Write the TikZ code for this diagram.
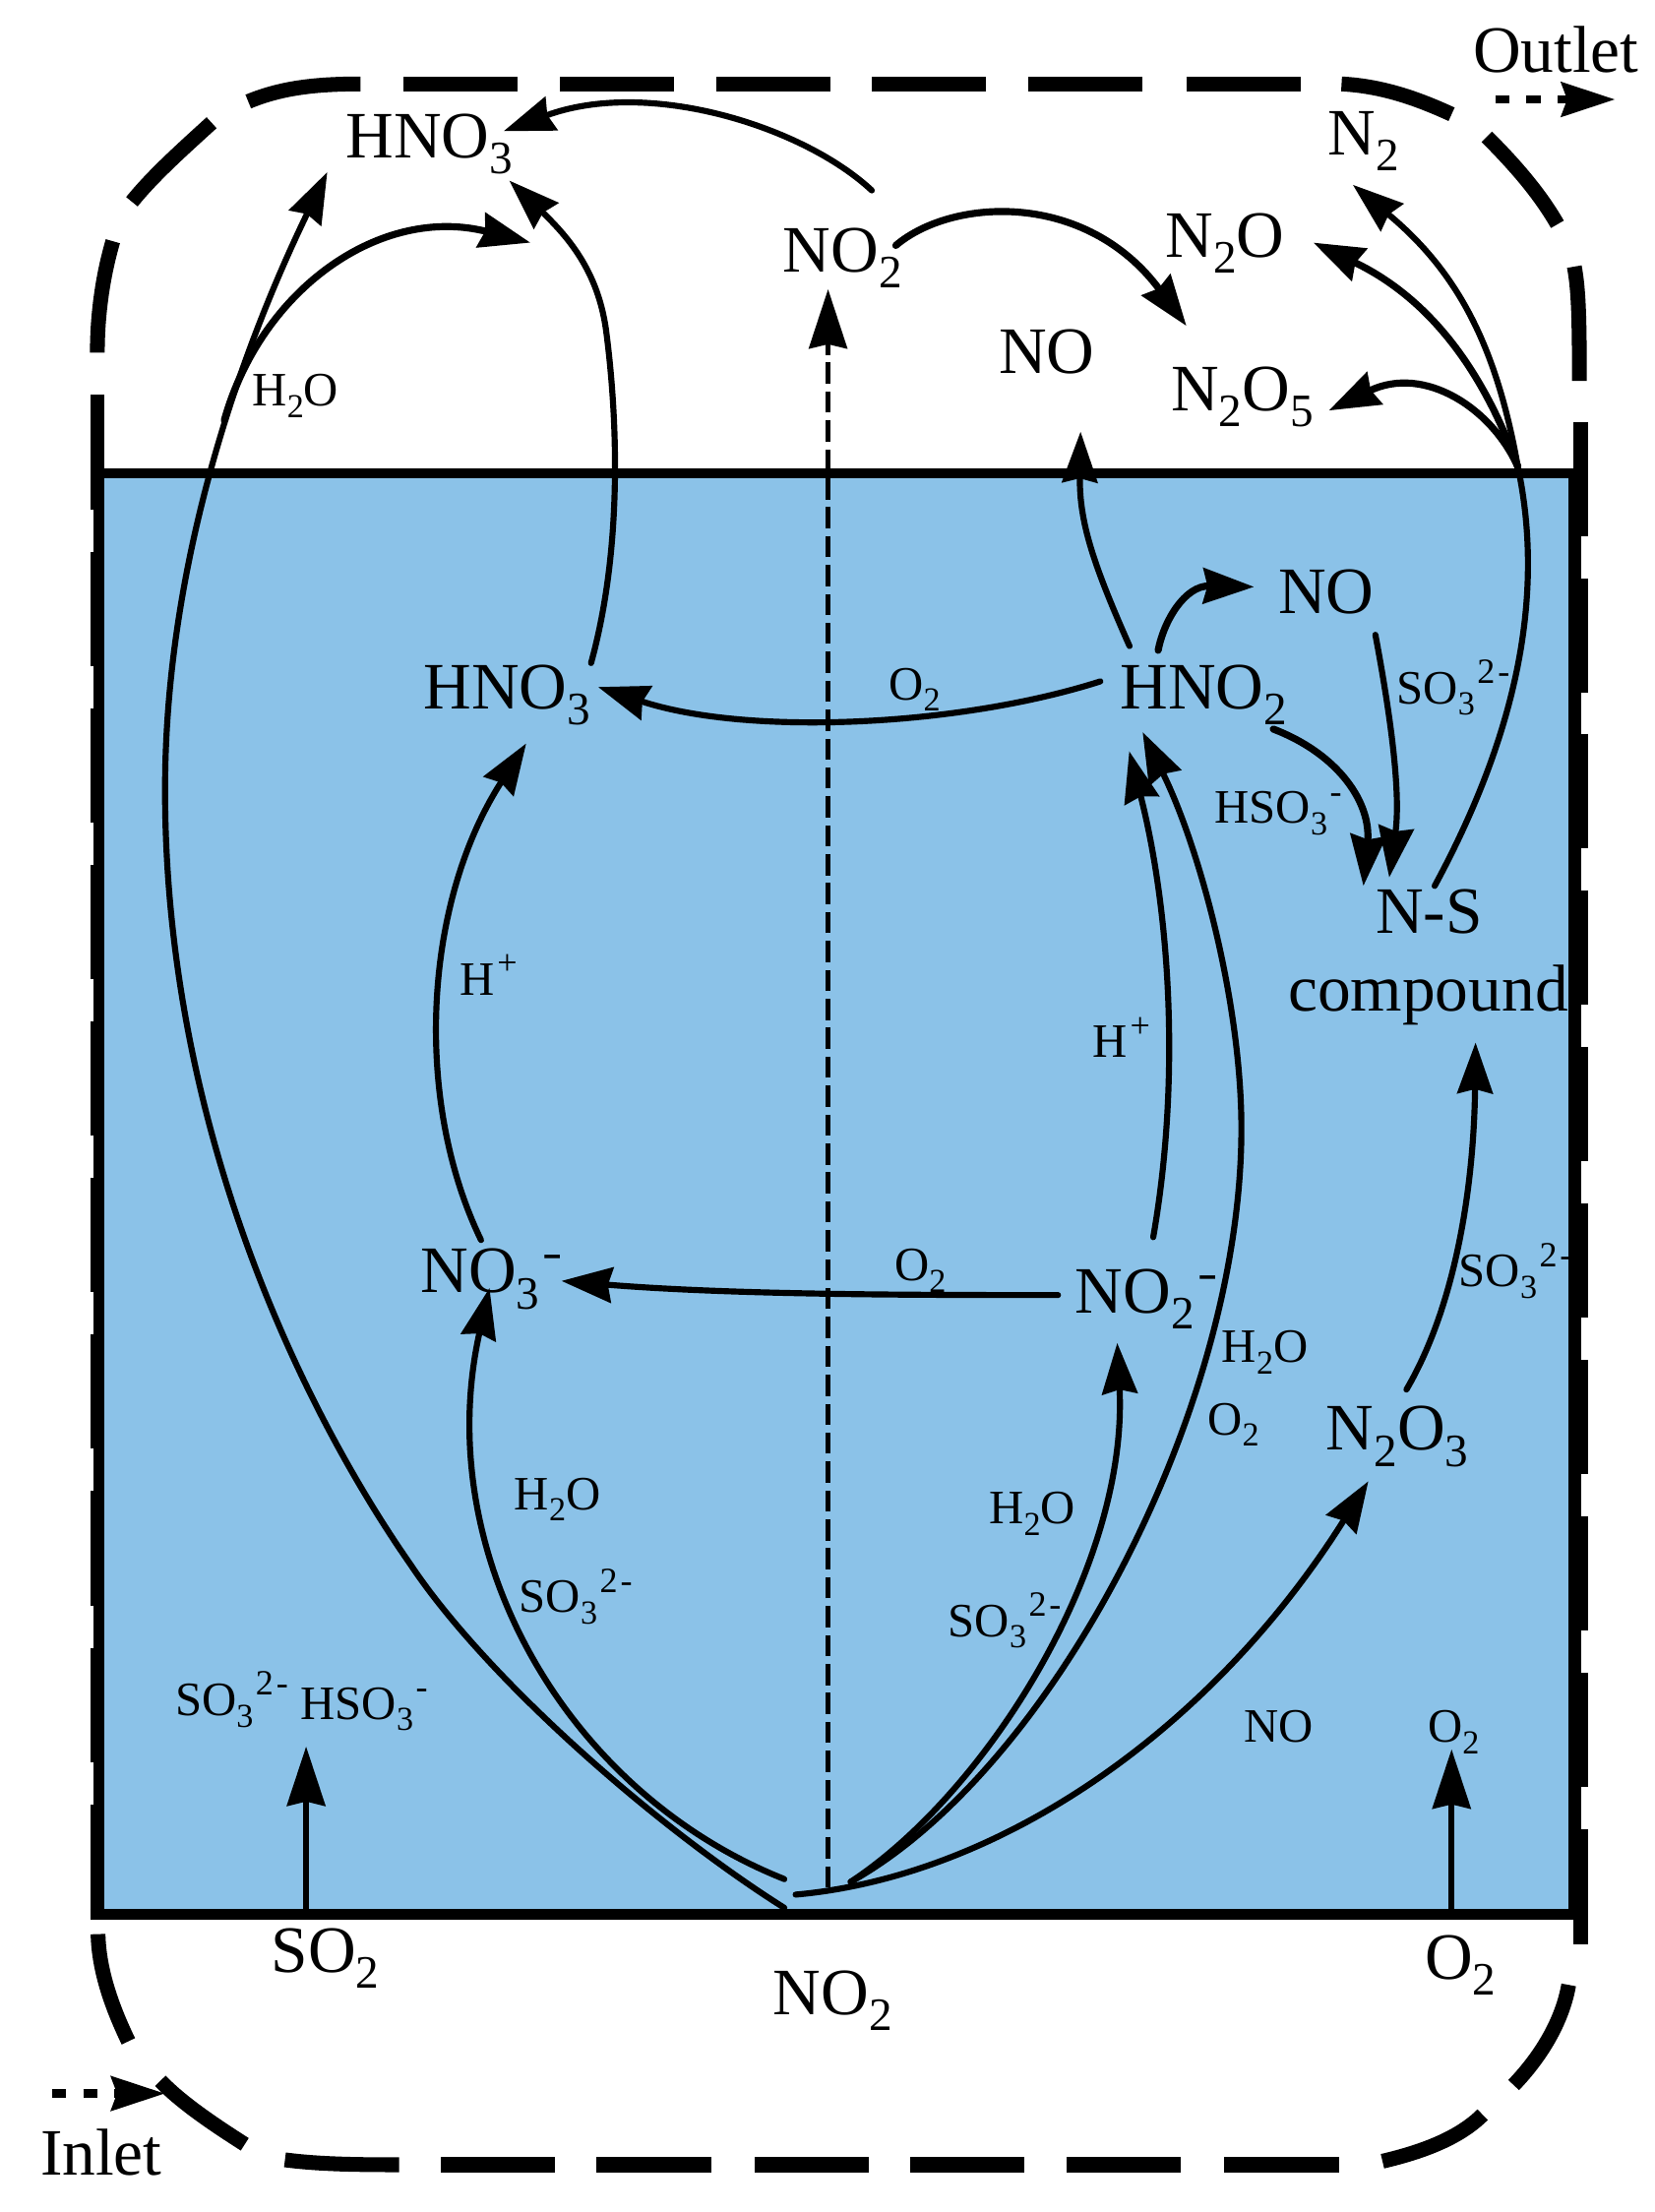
\documentclass[tikz,border=0pt]{standalone}
\usepackage{graphicx}
\usepackage{fontspec}
\setmainfont{Liberation Serif}
\usetikzlibrary{arrows.meta}
\definecolor{liquid}{RGB}{139,194,232}
\newcommand\bigsz{\fontsize{47}{47}\selectfont}
\newcommand\smsz{\fontsize{34}{34}\selectfont}
\newcommand\sbb[1]{\raisebox{-.24em}{\scalebox{.7}{#1}}}
\newcommand\spp[1]{\kern.05em\raisebox{.42em}{\scalebox{.74}{#1}}}
\newcommand\minus{\kern.05em\raisebox{.38em}{\scalebox{.9}[.7]{-}}}
\tikzset{
  big/.style={inner sep=0pt,anchor=base west,font=\bigsz},
  small/.style={inner sep=0pt,anchor=base west,font=\smsz},
  wall/.style={line width=10.5pt,line cap=butt},
  rxn/.style={line width=4.3pt,line cap=round,-{Stealth[length=36pt,width=25pt,inset=3pt]}},
  rxnthick/.style={rxn,line width=5pt},
  plainrxn/.style={line width=4.3pt,line cap=round},
  feed/.style={line width=4pt,-{Stealth[length=42pt,width=27pt,inset=3pt]}},
  flowarrow/.style={line width=6pt,dash pattern=on 10pt off 12pt,-{Stealth[length=38pt,width=24pt,inset=4pt]}},
  gasdash/.style={line width=3.5pt,dash pattern=on 15pt off 5.5pt,-{Stealth[length=42pt,width=27pt,inset=3pt]}}
}
\begin{document}
\begin{tikzpicture}[x=1pt,y=-1pt]
\useasboundingbox (0,0) rectangle (1173,1568);
% liquid
\fill[liquid] (70.5,335.5) rectangle (1116,1357);
% vessel walls: top dashes
\foreach \a in {286,397,508,618,729,841}{\draw[wall] (\a,59.5) -- ++(81,0);}
\draw[wall] (176,72) .. controls (200,62) and (225,59.5) .. (255.5,59.5);
\draw[wall] (150,87) .. controls (128,107) and (108,125) .. (93.5,143);
\draw[wall] (80,171) .. controls (73,195) and (69,222) .. (69,250);
\draw[wall] (951,59.5) .. controls (980,61) and (1005,70) .. (1029,81);
\draw[wall] (1054,97) .. controls (1075,118) and (1092,138) .. (1104,159);
\draw[wall] (1116,189) .. controls (1119,205) and (1119.6,225) .. (1119.6,270);
% vessel walls: side dashes
\foreach \a in {280,391,502,613,724,835,946,1057,1168,1279}{\draw[line width=10pt] (69,\a) -- ++(0,81);}
\foreach \a in {299,410,520,631,742,853,964,1075,1186,1297}{\draw[wall] (1120.5,\a) -- ++(0,81);}
% vessel walls: bottom
\foreach \a in {312.6,423,535,645,756,868}{\draw[wall] (\a,1534.5) -- ++(81,0);}
\draw[wall] (202,1531) .. controls (225,1534) and (250,1534.5) .. (283,1534.5);
\draw[wall] (173.5,1520) .. controls (150,1505) and (128,1490) .. (113.7,1475);
\draw[wall] (91,1447) .. controls (78,1420) and (70,1395) .. (69.5,1371);
\draw[wall] (980,1532) .. controls (1010,1525) and (1035,1515) .. (1051,1499);
\draw[wall] (1073,1478) .. controls (1095,1455) and (1108,1430) .. (1112,1407);
\draw[wall] (1120.5,1357) -- (1120.5,1378);
% box
\draw[line width=7pt] (66,335.5) -- (1124,335.5);
\draw[line width=8pt] (64,1357) -- (1124,1357);
\draw[line width=7.4pt] (70.3,335.5) -- (70.3,1357);
\draw[line width=9pt] (1116.5,335.5) -- (1116.5,1357);

% text
\node[big] (hno3top) at (245,112) {HNO\sbb{3}};
\node[big] (no2top) at (555,193) {NO\sbb{2}};
\node[big] (n2) at (941,110) {N\sbb{2}};
\node[big] (n2o) at (826,182.6) {N\sbb{2}O};
\node[big] (notop) at (708,264.5) {NO};
\node[big] (n2o5) at (830,291.4) {N\sbb{2}O\sbb{5}};
\node[big] (outlet) at (1044,51) {Outlet};
\node[small] (h2otop) at (178.8,287.7) {H\sbb{2}O};
\node[big] (nomid) at (906,434.6) {NO};
\node[big] (hno2) at (794,502.6) {HNO\sbb{2}};
\node[small] (so3a) at (990,498.8) {SO\sbb{3}\spp{2\kern.08em-}};
\node[small] (hso3a) at (861,583.5) {HSO\sbb{3}\spp{-}};
\node[big] (ns) at (975,661.9) {N-S};
\node[big] (compound) at (913,716.8) {compound};
\node[small] (hpr) at (774.7,749.8) {H\spp{+}};
\node[small] (o2a) at (630,496) {O\sbb{2}};
\node[big] (hno3mid) at (300,502.5) {HNO\sbb{3}};
\node[small] (hpl) at (326,705.5) {H\spp{+}};
\node[big] (no3) at (298,916.5) {NO\sbb{3}\minus};
\node[small] (o2b) at (634,908) {O\sbb{2}};
\node[big] (no2m) at (762,931) {NO\sbb{2}\minus};
\node[small] (h2ob) at (866,966) {H\sbb{2}O};
\node[small] (o2c) at (856,1017) {O\sbb{2}};
\node[big] (n2o3) at (940,1028) {N\sbb{2}O\sbb{3}};
\node[small] (so3b) at (1034,912) {SO\sbb{3}\spp{2\kern.08em-}};
\node[small] (h2oc) at (364.5,1070) {H\sbb{2}O};
\node[small] (so3c) at (368,1143) {SO\sbb{3}\spp{2\kern.08em-}};
\node[small] (h2od) at (701,1080) {H\sbb{2}O};
\node[small] (so3d) at (672,1160) {SO\sbb{3}\spp{2\kern.08em-}};
\node[small] (so3e) at (124,1216) {SO\sbb{3}\spp{2\kern.08em-}};
\node[small] (hso3e) at (213,1218.6) {HSO\sbb{3}\spp{-}};
\node[small] (nosm) at (881.5,1235) {NO};
\node[small] (o2sm) at (1012,1235) {O\sbb{2}};
\node[big] (so2) at (192,1398) {SO\sbb{2}};
\node[big] (o2in) at (1010,1402.7) {O\sbb{2}};
\node[big] (no2in) at (548,1428) {NO\sbb{2}};
\node[big] (inlet) at (28.4,1542) {Inlet};

% connector ends
\coordinate (src) at (564,1343);
\coordinate (srcR) at (603,1334);
\coordinate (srcL) at (556,1332);
\coordinate (srcB) at (556,1352.4);
\coordinate (jn) at (1076,331);
\coordinate (bendA) at (291,1109);
\coordinate (bend) at (117,560);
\coordinate (bendB) at (880,800);
\coordinate (bendD) at (430,237);
\coordinate (so2end) at (217,1357);
\coordinate (so2tip) at (217,1238);
\coordinate (o2end) at (1029,1357);
\coordinate (o2tip) at (1029,1240);
\coordinate (dashS) at (587,1338);
\coordinate (dashT) at (587,205);
\coordinate (outS) at (1060,70.5);
\coordinate (outT) at (1145,70.5);
\coordinate (inS) at (37,1484);
\coordinate (inT) at (117,1484);

% feeds
\draw[feed] (so2end) -- (so2tip);
\draw[feed] (o2end) -- (o2tip);
\draw[gasdash] (dashS) -- (dashT);
\draw[flowarrow] (outS) -- (outT);
\draw[flowarrow] (inS) -- (inT);

% liquid reactions
\draw[rxn] (src) .. controls (710,1330) and (860,1225) .. (970,1050);
\draw[rxn] (srcR) .. controls (700,1270) and (800,1110) .. (792,952);
\draw[rxn] (srcR) .. controls (745,1255) and (880,1000) .. (bendB) .. controls (880,710) and (850,600) .. (810,519);
\draw[rxn] (srcL) .. controls (400,1270) and (305,1100) .. (347,913);
\draw[rxn] (srcB) .. controls (465,1295) and (345,1190) .. (bendA) .. controls (215,1000) and (117,800) .. (bend) .. controls (117,400) and (170,250) .. (232,122);
\draw[rxnthick] (159,298) .. controls (185,205) and (270,145) .. (376,172);
\draw[rxn] (419,470) .. controls (441,390) and (438,300) .. (bendD) .. controls (425,195) and (405,170) .. (361,128);
\draw[rxn] (618,135) .. controls (570,90) and (460,55) .. (357,93);
\draw[rxnthick] (635,174) .. controls (675,140) and (770,135) .. (841,231);
\draw[plainrxn] (1017,628) .. controls (1070,530) and (1097,430) .. (jn);
\draw[rxn] (jn) .. controls (1060,240) and (1030,190) .. (959,131);
\draw[rxnthick] (jn) .. controls (1045,245) and (1000,205) .. (931,172);
\draw[rxnthick] (jn) .. controls (1058,290) and (1010,258) .. (942,291);
\draw[rxn] (780,483) .. controls (680,515) and (530,522) .. (424,487);
\draw[rxn] (750,918) .. controls (650,918) and (520,918) .. (398,908);
\draw[rxn] (341,879) .. controls (293,780) and (300,640) .. (373,527);
\draw[rxn] (817.5,877) .. controls (838,760) and (828,640) .. (800.5,532.5);
\draw[rxn] (800.7,458) .. controls (775,400) and (765,370) .. (766,306);
\draw[rxnthick] (821,461) .. controls (825,440) and (840,415) .. (889,416);
\draw[rxn] (975,450) .. controls (990,530) and (992,570) .. (984.8,622);
\draw[rxnthick] (902.6,516.8) .. controls (950,535) and (972,570) .. (966.5,628);
\draw[rxn] (997,985) .. controls (1035,920) and (1045,830) .. (1046,739);
\end{tikzpicture}
\end{document}
